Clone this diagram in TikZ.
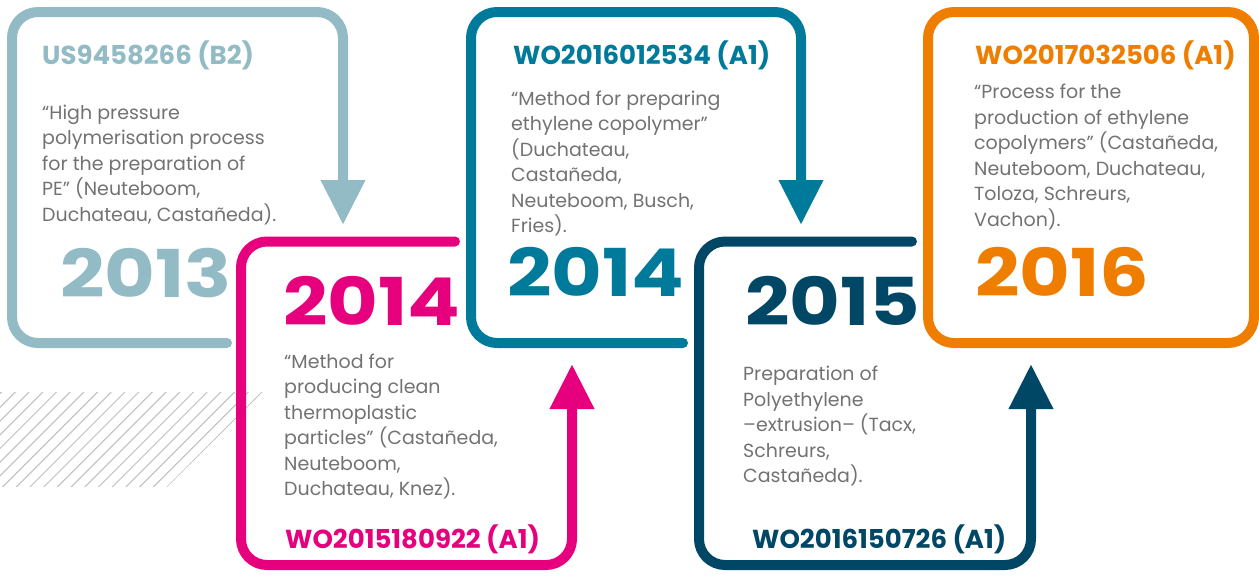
\documentclass[tikz,border=0pt]{standalone}
\usepackage{fontspec}
\setmainfont{Poppins}
\newfontfamily\wideyear[FakeStretch=1.18]{Poppins}
\usetikzlibrary{arrows.meta}
\definecolor{grayblue}{HTML}{93BBC6}
\definecolor{magenta}{HTML}{E6007E}
\definecolor{petrol}{HTML}{007A9B}
\definecolor{navy}{HTML}{004665}
\definecolor{amber}{HTML}{EF7D00}
\definecolor{bodygray}{HTML}{727272}
\begin{document}
\begin{tikzpicture}[x=1pt,y=-1pt, line join=round, line cap=round,
		frame/.style={line width=10pt, rounded corners=26pt},
		tipped/.style={frame, -{Triangle[length=45pt,width=42pt]}},
		body/.style={anchor=base west, inner sep=0pt, text=bodygray, font=\fontsize{19}{23}\selectfont},
		head/.style={anchor=base west, inner sep=0pt, font=\fontsize{26}{30}\selectfont\bfseries},
		year/.style={anchor=base west, inner sep=0pt, font=\wideyear\fontsize{66}{70}\selectfont\bfseries}]
	\useasboundingbox (0,0) rectangle (1259,576);
	\def\gap{25.5} % line spacing
	% hatching
	\begin{scope}
		\clip (0,392) -- (263,392) -- (167,487) -- (0,487) -- cycle;
		\foreach \k in {0,...,19}{
			\draw[gray!50, line width=1pt] ({167-13.7*\k},487) coordinate (h\k) -- ++(95,-95);
		}
	\end{scope}
	% 2013
	\coordinate (a1) at (227,343); \coordinate (a2) at (12,343);
	\coordinate (a3) at (12,12); \coordinate (a4) at (343,12); \coordinate (a5) at (343,225);
	\draw[tipped, grayblue] (a1) -- (a2) -- (a3) -- (a4) -- (a5);
	\node[head, grayblue] (h2013) at (42,64) {US9458266 (B2)};
	\foreach \t [count=\i from 0] in {{“High pressure},{polymerisation process},{for the preparation of},{PE” (Neuteboom,},{Duchateau, Castañeda).}}{
		\node[body] (t2013-\i) at (42,{119+\gap*\i}) {\t};
	}
	\node[year, grayblue] (y2013) at (60,297) {2013};
	% 2014 (pink)
	\coordinate (b1) at (455,241.5); \coordinate (b2) at (241,241.5);
	\coordinate (b3) at (241,565); \coordinate (b4) at (572,565); \coordinate (b5) at (572,364);
	\draw[tipped, magenta] (b1) -- (b2) -- (b3) -- (b4) -- (b5);
	\node[year, magenta] (y2014a) at (283,325) {2014};
	\foreach \t [count=\i from 0] in {{“Method for},{producing clean},{thermoplastic},{particles” (Castañeda,},{Neuteboom,},{Duchateau, Knez).}}{
		\node[body] (t2014a-\i) at (284,{368+\gap*\i}) {\t};
	}
	\node[head, magenta] (h2014a) at (285,548) {WO2015180922 (A1)};
	% 2014 (petrol)
	\coordinate (c1) at (683,343); \coordinate (c2) at (471,343);
	\coordinate (c3) at (471,12); \coordinate (c4) at (801,12); \coordinate (c5) at (801,225);
	\draw[tipped, petrol] (c1) -- (c2) -- (c3) -- (c4) -- (c5);
	\node[head, petrol] (h2014b) at (513,64) {WO2016012534 (A1)};
	\foreach \t [count=\i from 0] in {{“Method for preparing},{ethylene copolymer”},{(Duchateau,},{Castañeda,},{Neuteboom, Busch,},{Fries).}}{
		\node[body] (t2014b-\i) at (511,{105+\gap*\i}) {\t};
	}
	\node[year, petrol] (y2014b) at (507,296) {2014};
	% 2015
	\coordinate (d1) at (912,241.5); \coordinate (d2) at (699,241.5);
	\coordinate (d3) at (699,565); \coordinate (d4) at (1031,565); \coordinate (d5) at (1031,364);
	\draw[tipped, navy] (d1) -- (d2) -- (d3) -- (d4) -- (d5);
	\node[year, navy] (y2015) at (745,325) {2015};
	\foreach \t [count=\i from 0] in {{Preparation of},{Polyethylene},{–extrusion– (Tacx,},{Schreurs,},{Castañeda).}}{
		\node[body] (t2015-\i) at (743,{380.5+\gap*\i}) {\t};
	}
	\node[head, navy] (h2015) at (752,548) {WO2016150726 (A1)};
	% 2016
	\draw[frame, amber] (928,12) rectangle (1254,343);
	\node[head, amber] (h2016) at (975,64) {WO2017032506 (A1)};
	\foreach \t [count=\i from 0] in {{“Process for the},{production of ethylene},{copolymers” (Castañeda,},{Neuteboom, Duchateau,},{Toloza, Schreurs,},{Vachon).}}{
		\node[body] (t2016-\i) at (974,{98.5+\gap*\i}) {\t};
	}
	\node[year, amber] (y2016) at (975,296) {2016};
\end{tikzpicture}
\end{document}
